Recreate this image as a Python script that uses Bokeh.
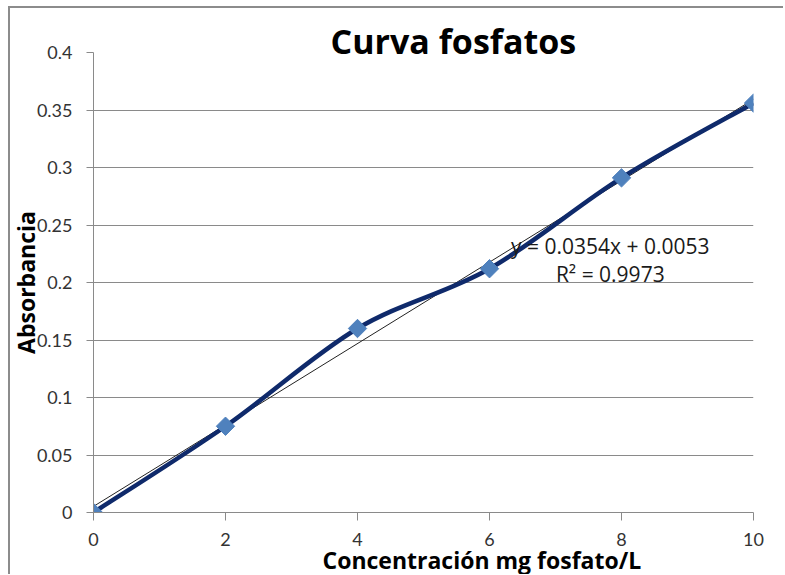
import math
from bokeh.plotting import figure
from bokeh.models import FixedTicker, Label, Range1d, Title
from bokeh.embed import file_html
from bokeh.resources import INLINE

# ---- data ----
conc = [0, 2, 4, 6, 8, 10]
absorb = [0.0, 0.075, 0.160, 0.212, 0.291, 0.356]
slope = 0.0354
intercept = 0.0053
r2 = 0.9973
x_ticks = [0, 2, 4, 6, 8, 10]
y_ticks = [0, 0.05, 0.1, 0.15, 0.2, 0.25, 0.3, 0.35, 0.4]
y_tick_labels = ["0", "0.05", "0.1", "0.15", "0.2", "0.25", "0.3", "0.35", "0.4"]
title_text = "Curva fosfatos"
x_label = "Concentración mg fosfato/L"
y_label = "Absorbancia"

FONT = "Lato"
BFONT = "Open Sans"
GRID = "#8a8a8a"

p = figure(frame_width=660, frame_height=460, output_backend="svg",
           toolbar_location=None,
           x_range=Range1d(x_ticks[0], x_ticks[-1]), y_range=Range1d(y_ticks[0], y_ticks[-1]),
           min_border_left=85, min_border_right=30, min_border_top=46,
           min_border_bottom=62)
p.styles = {"margin-left": "8px", "margin-top": "6px",
            "box-shadow": "inset 2px 2px 0 #8c8c8c"}
p.outline_line_color = None
p.background_fill_color = "white"
p.border_fill_alpha = 0

p.xgrid.grid_line_color = None
p.ygrid.grid_line_color = GRID
p.ygrid.grid_line_width = 1

p.xaxis.ticker = FixedTicker(ticks=x_ticks)
p.yaxis.ticker = FixedTicker(ticks=y_ticks)
p.yaxis.major_label_overrides = {t: s for t, s in zip(y_ticks, y_tick_labels)}
for ax in (p.xaxis, p.yaxis):
    ax.axis_line_color = GRID
    ax.major_tick_line_color = GRID
    ax.minor_tick_line_color = None
    ax.major_tick_in = 0
    ax.major_label_text_font = FONT
    ax.major_label_text_font_size = "18px"
    ax.major_label_text_color = "#333333"
p.xaxis.major_tick_out = 8
p.yaxis.major_tick_out = 7
p.xaxis.major_label_standoff = 12
p.yaxis.major_label_standoff = 14

# title, x label, y label as titles so they are not clipped
p.title = Title(text=title_text, align="left", offset=237, standoff=-22,
                text_font=BFONT, text_font_size="34px", text_font_style="bold",
                text_color="black")
p.add_layout(Title(text=x_label, align="left", offset=229, standoff=-14,
                   text_font=BFONT, text_font_size="23px", text_font_style="bold",
                   text_color="black"), "below")
p.add_layout(Title(text=y_label, align="center", standoff=-16,
                   text_font=BFONT, text_font_size="23px", text_font_style="bold",
                   text_color="black"), "left")

# trendline
tx = [x_ticks[0], x_ticks[-1]]
ty = [intercept + slope * v for v in tx]
p.line(tx, ty, line_color="#222222", line_width=1)

# smoothed line (Catmull-Rom style bezier, like Excel smoothing)
n = len(conc)
bx0, by0, bx1, by1, cx0, cy0, cx1, cy1 = [], [], [], [], [], [], [], []
for i in range(n - 1):
    pa = (conc[max(i - 1, 0)], absorb[max(i - 1, 0)])
    pb = (conc[i], absorb[i])
    pc = (conc[i + 1], absorb[i + 1])
    pd = (conc[min(i + 2, n - 1)], absorb[min(i + 2, n - 1)])
    bx0.append(pb[0]); by0.append(pb[1])
    bx1.append(pc[0]); by1.append(pc[1])
    cx0.append(pb[0] + (pc[0] - pa[0]) / 6); cy0.append(pb[1] + (pc[1] - pa[1]) / 6)
    cx1.append(pc[0] - (pd[0] - pb[0]) / 6); cy1.append(pc[1] - (pd[1] - pb[1]) / 6)
p.bezier(x0=bx0, y0=by0, x1=bx1, y1=by1, cx0=cx0, cy0=cy0, cx1=cx1, cy1=cy1,
         line_color="#0f2a6b", line_width=4.5)

p.scatter(conc, absorb, marker="square", angle=math.pi / 4, size=13,
          fill_color="#4f81bd", line_color="#4f81bd")

# trendline equation
p.add_layout(Label(x=7.83, y=0.2317, text=f"y = {slope}x + {intercept}", text_font=BFONT,
                   text_font_size="21px", text_color="#1a1a1a",
                   text_align="center", text_baseline="middle"))
p.add_layout(Label(x=7.83, y=0.2074, text=f"R² = {r2}", text_font=BFONT,
                   text_font_size="21px", text_color="#1a1a1a",
                   text_align="center", text_baseline="middle"))

open("out.html", "w").write(file_html(p, INLINE))
